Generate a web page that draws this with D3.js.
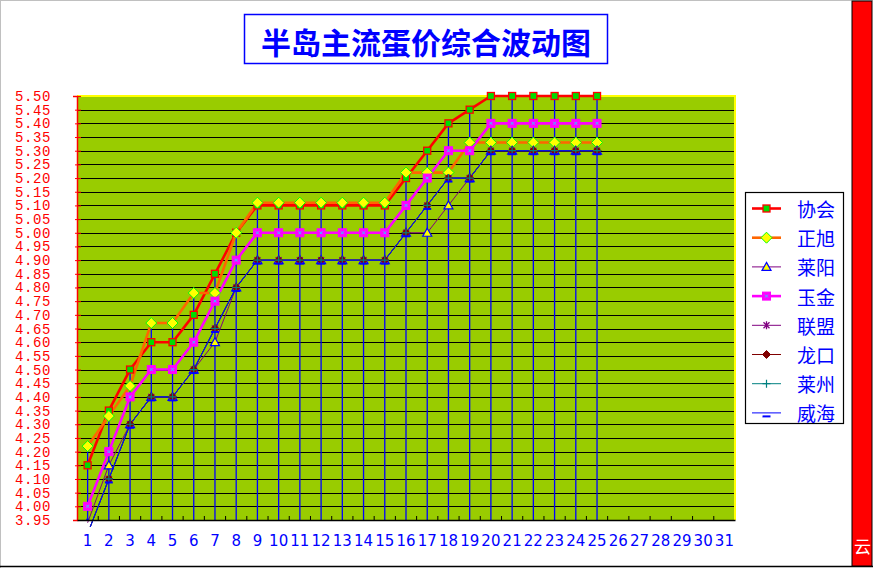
<!DOCTYPE html>
<html>
<head>
<meta charset="utf-8">
<script src="https://cdn.jsdelivr.net/npm/d3@7/dist/d3.min.js"></script>
<style>
  body { margin: 0; background: #fff; }
  svg { display: block; }
</style>
</head>
<body>
<script>
// categories (days) and series values
var days = ["1","2","3","4","5","6","7","8","9","10","11","12","13","14","15","16","17","18","19","20","21","22","23","24","25","26","27","28","29","30","31"];
var yTicks = ["3.95","4.00","4.05","4.10","4.15","4.20","4.25","4.30","4.35","4.40","4.45","4.50","4.55","4.60","4.65","4.70","4.75","4.80","4.85","4.90","4.95","5.00","5.05","5.10","5.15","5.20","5.25","5.30","5.35","5.40","5.45","5.50"];

var xiehui  = [4.15,4.35,4.50,4.60,4.60,4.70,4.85,5.00,5.10,5.10,5.10,5.10,5.10,5.10,5.10,5.20,5.30,5.40,5.45,5.50,5.50,5.50,5.50,5.50,5.50];
var zhengxu = [4.22,4.33,4.44,4.67,4.67,4.78,4.78,5.00,5.11,5.11,5.11,5.11,5.11,5.11,5.11,5.22,5.22,5.22,5.33,5.33,5.33,5.33,5.33,5.33,5.33];
var laiyang = [3.94,4.15,4.30,4.40,4.40,4.50,4.60,4.80,4.90,4.90,4.90,4.90,4.90,4.90,4.90,5.00,5.00,5.10,5.20,5.30,5.30,5.30,5.30,5.30,5.30];
var yujin   = [4.00,4.20,4.40,4.50,4.50,4.60,4.75,4.90,5.00,5.00,5.00,5.00,5.00,5.00,5.00,5.10,5.20,5.30,5.30,5.40,5.40,5.40,5.40,5.40,5.40];
var lianmeng = [3.90,4.10,4.30,4.40,4.40,4.50,4.65,4.80,4.90,4.90,4.90,4.90,4.90,4.90,4.90,5.00,5.10,5.20,5.20,5.30,5.30,5.30,5.30,5.30,5.30];
var longkou  = [3.90,4.10,4.30,4.40,4.40,4.50,4.65,4.80,4.90,4.90,4.90,4.90,4.90,4.90,4.90,5.00,5.10,5.20,5.20,5.30,5.30,5.30,5.30,5.30,5.30];
var laizhou  = [3.90,4.10,4.30,4.40,4.40,4.50,4.65,4.80,4.90,4.90,4.90,4.90,4.90,4.90,4.90,5.00,5.10,5.20,5.20,5.30,5.30,5.30,5.30,5.30,5.30];
var weihai   = [3.90,4.10,4.30,4.40,4.40,4.50,4.65,4.80,4.90,4.90,4.90,4.90,4.90,4.90,4.90,5.00,5.10,5.20,5.20,5.30,5.30,5.30,5.30,5.30,5.30];

var names = ["协会","正旭","莱阳","玉金","联盟","龙口","莱州","威海"];

var series = [
  {name: names[0], values: xiehui,  color: "#ff0000", width: 2.6, marker: "square"},
  {name: names[1], values: zhengxu, color: "#ff6600", width: 2.6, marker: "diamond"},
  {name: names[2], values: laiyang, color: "#800080", width: 1,   marker: "triangle"},
  {name: names[3], values: yujin,   color: "#ff00ff", width: 2.6, marker: "msquare"},
  {name: names[4], values: lianmeng, color: "#800080", width: 1,  marker: "star"},
  {name: names[5], values: longkou,  color: "#800000", width: 1,  marker: "ddiamond"},
  {name: names[6], values: laizhou,  color: "#008080", width: 1,  marker: "plus"},
  {name: names[7], values: weihai,   color: "#0000ff", width: 1,  marker: "dash"}
];

var W = 873, H = 568;
var svg = d3.select("body").append("svg").attr("width", W).attr("height", H);

// outer frame
svg.append("rect").attr("width", W).attr("height", H).attr("fill", "#fff");
svg.append("line").attr("x1", 0).attr("x2", W).attr("y1", 0.5).attr("y2", 0.5).attr("stroke", "#c0c0c0");
svg.append("line").attr("x1", 0.5).attr("x2", 0.5).attr("y1", 0).attr("y2", H).attr("stroke", "#c0c0c0");
svg.append("line").attr("x1", 0).attr("x2", W).attr("y1", 566.5).attr("y2", 566.5).attr("stroke", "#000").attr("stroke-width", 1.5);

// red band on the right
svg.append("rect").attr("x", 852).attr("y", 1).attr("width", 20).attr("height", 565)
  .attr("fill", "#ff0000").attr("stroke", "#000").attr("stroke-width", 1);
svg.append("text")
  .attr("x", 854).attr("y", 553)
  .attr("font-family", "Noto Sans CJK SC").attr("font-size", 17).attr("fill", "#fff")
  .text("云");

var pLeft = 77, pRight = 735, pTop = 96, pBottom = 520;
var x = d3.scaleBand().domain(days).range([pLeft, pRight]).padding(0);
var y = d3.scaleLinear().domain([+yTicks[0], +yTicks[yTicks.length - 1]]).range([pBottom, pTop]);
var cx = function(i) { return x(days[i]) + x.bandwidth() / 2; };

// plot area
svg.append("rect").attr("x", pLeft).attr("y", pTop).attr("width", pRight - pLeft).attr("height", pBottom - pTop)
  .attr("fill", "#99cc00");

// grid
svg.append("g").selectAll("line").data(yTicks.slice(1, -1)).enter().append("line")
  .attr("x1", pLeft).attr("x2", pRight)
  .attr("y1", function(d) { return Math.round(y(+d)) + 0.5; })
  .attr("y2", function(d) { return Math.round(y(+d)) + 0.5; })
  .attr("stroke", "#000").attr("stroke-width", 1.2);

// yellow frame top/right
svg.append("path").attr("d", "M" + pLeft + "," + pTop + "H" + pRight + "V" + pBottom)
  .attr("fill", "none").attr("stroke", "#ffff00").attr("stroke-width", 2);

// drop lines
var nData = xiehui.length;
var drops = d3.range(nData).map(function(i) {
  return d3.max(series, function(s) { return s.values[i]; });
});
svg.append("g").selectAll("line").data(drops).enter().append("line")
  .attr("x1", function(d, i) { return cx(i); }).attr("x2", function(d, i) { return cx(i); })
  .attr("y1", function(d) { return y(d); }).attr("y2", pBottom)
  .attr("stroke", "#0000ff").attr("stroke-width", 1.3);

// clip paths
svg.append("clipPath").attr("id", "lineclip").append("rect")
  .attr("x", pLeft).attr("y", pTop - 4).attr("width", pRight - pLeft).attr("height", pBottom - pTop + 11);
svg.append("clipPath").attr("id", "markclip").append("rect")
  .attr("x", pLeft).attr("y", pTop - 6).attr("width", pRight - pLeft).attr("height", pBottom - pTop + 6);

function marker(g, type, color) {
  if (type == "square") {
    g.append("rect").attr("x", -3.5).attr("y", -3.5).attr("width", 7).attr("height", 7)
      .attr("fill", "#00dd00").attr("stroke", "#ff0000").attr("stroke-width", 1.3);
  } else if (type == "diamond") {
    g.append("path").attr("d", "M0,-5.5L5.5,0L0,5.5L-5.5,0Z")
      .attr("fill", "#ffff00").attr("stroke", "#00ff00").attr("stroke-width", 1);
  } else if (type == "triangle") {
    g.append("path").attr("d", "M0,-4.5L4.5,3.5L-4.5,3.5Z")
      .attr("fill", "#ffff00").attr("stroke", "#0000ff").attr("stroke-width", 1.2);
  } else if (type == "msquare") {
    g.append("rect").attr("x", -4).attr("y", -4).attr("width", 8).attr("height", 8)
      .attr("fill", "#ff00ff").attr("stroke", "#ff00ff");
    g.append("path").attr("d", "M-1.5,-1.5L1.5,1.5M1.5,-1.5L-1.5,1.5")
      .attr("stroke", "#33ccff").attr("stroke-width", 1);
  } else if (type == "star") {
    g.append("path").attr("d", "M-3,-3L3,3M3,-3L-3,3M0,-4V4")
      .attr("stroke", color).attr("stroke-width", 1.3);
  } else if (type == "ddiamond") {
    g.append("path").attr("d", "M0,-4L4,0L0,4L-4,0Z").attr("fill", "#800000").attr("stroke", "#800000");
  } else if (type == "plus") {
    g.append("path").attr("d", "M-4,0H4M0,-4V4").attr("stroke", color).attr("stroke-width", 1.2);
  } else if (type == "dash") {
    g.append("path").attr("d", "M-4,3.5H4").attr("stroke", color).attr("stroke-width", 2);
  }
}

var line = d3.line().x(function(d, i) { return cx(i); }).y(function(d) { return y(d); });

series.forEach(function(s) {
  svg.append("path").datum(s.values).attr("clip-path", "url(#lineclip)")
    .attr("d", line).attr("fill", "none")
    .attr("stroke", s.color).attr("stroke-width", s.width).attr("stroke-linejoin", "round");
});
series.forEach(function(s) {
  var mg = svg.append("g").attr("clip-path", "url(#markclip)");
  s.values.forEach(function(v, i) {
    var g = mg.append("g").attr("transform", "translate(" + cx(i) + "," + y(v) + ")");
    marker(g, s.marker, s.color);
  });
});

// y axis (red)
var yAxis = svg.append("g").attr("transform", "translate(" + pLeft + ",0)")
  .call(d3.axisLeft(y).tickValues(yTicks.map(Number)).tickSize(4).tickPadding(22)
    .tickFormat(function(d, i) { return yTicks[i]; }));
yAxis.select(".domain").attr("stroke", "#ff0000").attr("stroke-width", 1.5);
yAxis.selectAll(".tick line").attr("stroke", "#ff0000").attr("x2", 4).attr("x1", -2);
yAxis.selectAll("text").attr("fill", "#ff0000")
  .attr("font-family", "Liberation Mono, DejaVu Sans Mono, monospace").attr("font-size", 14)
  .attr("letter-spacing", 0.6);

// x axis
var xAxis = svg.append("g").attr("transform", "translate(0," + pBottom + ")")
  .call(d3.axisBottom(x).tickSize(0).tickPadding(15));
xAxis.select(".domain").attr("stroke", "#000").attr("stroke-width", 1.5);
xAxis.selectAll("text").attr("fill", "#0000ff")
  .attr("font-family", "DejaVu Sans").attr("font-size", 15);
svg.append("g").selectAll("line").data(days.slice(1)).enter().append("line")
  .attr("x1", function(d) { return x(d); }).attr("x2", function(d) { return x(d); })
  .attr("y1", pBottom - 4).attr("y2", pBottom)
  .attr("stroke", "#000").attr("stroke-width", 1);

// title
svg.append("rect").attr("x", 244.5).attr("y", 14.5).attr("width", 363).attr("height", 49)
  .attr("fill", "#fff").attr("stroke", "#0000ff").attr("stroke-width", 1.5);
svg.append("text").attr("x", 426).attr("y", 41).attr("text-anchor", "middle").attr("dominant-baseline", "central")
  .attr("font-family", "Noto Sans CJK SC").attr("font-weight", "bold").attr("font-size", 30)
  .attr("fill", "#0000ff").text("半岛主流蛋价综合波动图");

// legend
var lg = svg.append("g");
lg.append("rect").attr("x", 745.5).attr("y", 192.5).attr("width", 98).attr("height", 231)
  .attr("fill", "#fff").attr("stroke", "#000").attr("stroke-width", 1.2);
series.forEach(function(s, i) {
  var ly = 208.5 + i * 29.2;
  lg.append("line").attr("x1", 752).attr("x2", 781).attr("y1", ly).attr("y2", ly)
    .attr("stroke", s.color).attr("stroke-width", s.width);
  marker(lg.append("g").attr("transform", "translate(766.5," + ly + ")"), s.marker, s.color);
  lg.append("text").attr("x", 797).attr("y", ly).attr("dominant-baseline", "central")
    .attr("font-family", "Noto Sans CJK SC").attr("font-size", 19).attr("fill", "#0000ff")
    .text(s.name);
});
</script>
</body>
</html>
